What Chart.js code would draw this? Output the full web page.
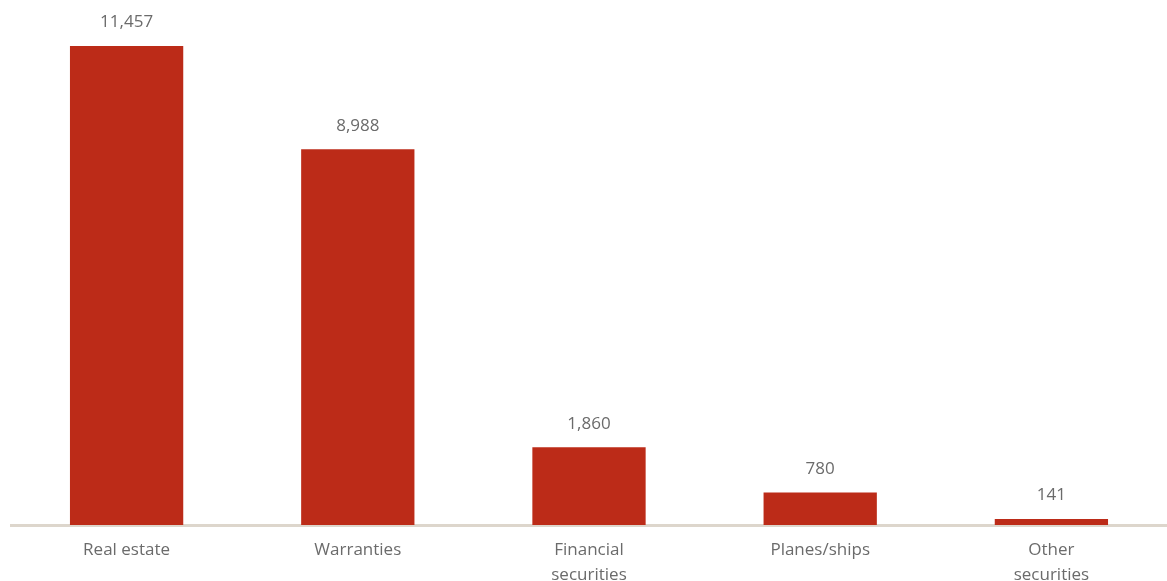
<!DOCTYPE html>
<html>
<head>
<meta charset="utf-8">
<title>Collateral by type</title>
<script src="https://cdn.jsdelivr.net/npm/chart.js@4"></script>
<style>
    html, body { margin: 0; padding: 0; background: #fff; }
    #wrap { width: 1167px; height: 581px; overflow: hidden; }
</style>
</head>
<body>
<div id="wrap"><canvas id="collateralChart" width="1167" height="581"></canvas></div>
<script>
/* ========================================================================
   Collateral by type - single bar series with value labels
   ======================================================================== */

const categories = [
    'Real estate',
    'Warranties',
    ['Financial', 'securities'],
    'Planes/ships',
    ['Other', 'securities']
];
const values = [11457, 8988, 1860, 780, 141];

const BAR_COLOR = '#bc2b18';
const TEXT_COLOR = '#6b6b6b';
const FONT = { family: 'Open Sans', size: 17, lineHeight: 1.45 };

// draws the number above each bar
const valueLabels = {
    id: 'valueLabels',
    afterDatasetsDraw(chart) {
        const { ctx } = chart;
        const meta = chart.getDatasetMeta(0);
        ctx.save();
        ctx.font = `${FONT.size}px ${FONT.family}`;
        ctx.fillStyle = TEXT_COLOR;
        ctx.textAlign = 'center';
        ctx.textBaseline = 'bottom';
        meta.data.forEach((bar, i) => {
            ctx.fillText(values[i].toLocaleString('en-US'), bar.x, bar.y - 15);
        });
        ctx.restore();
    }
};

document.addEventListener('DOMContentLoaded', () => {
    new Chart(document.getElementById('collateralChart'), {
        type: 'bar',
        data: {
            labels: categories,
            datasets: [{ data: values, backgroundColor: BAR_COLOR, barPercentage: 0.49, categoryPercentage: 1 }]
        },
        options: {
            responsive: false, animation: false,
            layout: { padding: { left: 11, right: 0, top: 0, bottom: 0 } },
            plugins: { legend: { display: false }, tooltip: { enabled: false } },
            scales: {
                x: {
                    grid: { display: false },
                    border: { display: true, color: '#ddd6cc', width: 3 },
                    ticks: { color: TEXT_COLOR, font: FONT, padding: 5, maxRotation: 0 },
                    afterFit: s => { s.height = 56; }
                },
                y: { display: false, min: 0, max: 12560 }
            }
        },
        plugins: [valueLabels]
    });
});
</script>
</body>
</html>
